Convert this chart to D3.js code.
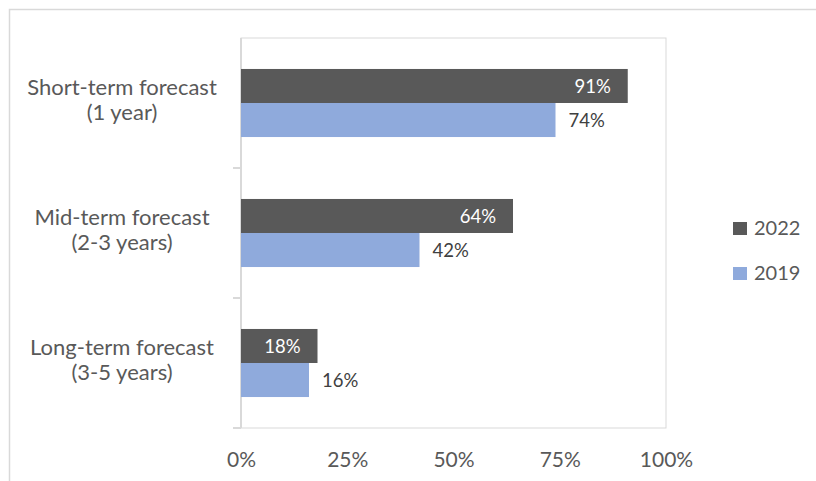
<!DOCTYPE html>
<html>
  <head>
    <meta charset="utf-8">
    <title>Forecast horizon</title>
    <script type="text/javascript" src="https://d3js.org/d3.v7.min.js"></script>
    <style>
      body { margin: 0; background: #fff; }
      text { font-family: Lato, "Open Sans", sans-serif; }
    </style>
  </head>
  <body>
    <script>

    var categories = [["Short-term forecast", "(1 year)"],
                      ["Mid-term forecast", "(2-3 years)"],
                      ["Long-term forecast", "(3-5 years)"]];
    var seriesNames = ["2022", "2019"];
    var values2022 = [91, 64, 18];
    var values2019 = [74, 42, 16];
    var tickValues = [0, 25, 50, 75, 100];
    var colors = ["#595959", "#8faadc"];

    var width = 816, height = 481;
    var plotLeft = 241, plotRight = 666, plotTop = 38, plotBottom = 428;   // plot area

    var svg = d3.select('body').append('svg')
                .attr("width", width)
                .attr("height", height);

    // outer chart border (runs off the right/bottom edge)
    svg.append("rect")
       .attr("x", 9.5).attr("y", 9.5)
       .attr("width", 820).attr("height", 480)
       .attr("fill", "none").attr("stroke", "#d9d9d9").attr("stroke-width", 1.5);

    var x = d3.scaleLinear().domain([0, 100]).range([plotLeft, plotRight]);
    var y = d3.scaleBand().domain(d3.range(categories.length)).range([plotTop, plotBottom]);
    var inner = d3.scaleBand().domain(seriesNames).range([0, y.bandwidth()]).paddingOuter(0.91).paddingInner(0);

    // plot area border
    svg.append("rect")
       .attr("x", plotLeft).attr("y", plotTop)
       .attr("width", plotRight - plotLeft).attr("height", plotBottom - plotTop)
       .attr("fill", "none").attr("stroke", "#d9d9d9").attr("stroke-width", 1);

    // category axis with ticks between categories
    var yAxisG = svg.append("g").attr("stroke", "#d9d9d9").attr("stroke-width", 2);
    yAxisG.append("line").attr("x1", plotLeft).attr("x2", plotLeft).attr("y1", plotTop).attr("y2", plotBottom);
    yAxisG.selectAll("line.tk")
          .data(d3.range(1, categories.length + 1))
          .enter().append("line")
          .attr("class", "tk")
          .attr("x1", plotLeft - 8).attr("x2", plotLeft)
          .attr("y1", function(d) { return d < categories.length ? y(d) : plotBottom; })
          .attr("y2", function(d) { return d < categories.length ? y(d) : plotBottom; });

    // category labels
    var catG = svg.selectAll("text.cat")
                  .data(categories)
                  .enter().append("text")
                  .attr("class", "cat")
                  .attr("text-anchor", "middle")
                  .attr("fill", "#595959")
                  .attr("font-size", 22)
                  .attr("y", function(d, i) { return y(i) + y.bandwidth() / 2; });
    catG.selectAll("tspan")
        .data(function(d) { return d; })
        .enter().append("tspan")
        .attr("x", 122)
        .attr("dy", function(d, i) { return i === 0 ? -8 : 25; })
        .text(function(d) { return d; });

    // value axis labels
    var xAxis = d3.axisBottom(x).tickValues(tickValues)
                  .tickFormat(function(d) { return d + "%"; })
                  .tickSize(0);
    var xg = svg.append("g").attr("transform", "translate(0," + plotBottom + ")").call(xAxis);
    xg.select(".domain").remove();
    xg.selectAll("text").attr("fill", "#595959").attr("font-size", 21)
      .attr("y", 39).attr("dy", 0)
      .style("font-family", "Lato, 'Open Sans', sans-serif");

    // bars
    var seriesData = [values2022, values2019];
    seriesData.forEach(function(vals, s) {
      var name = seriesNames[s];
      svg.selectAll("rect.s" + s)
         .data(vals)
         .enter().append("rect")
         .attr("class", "s" + s)
         .attr("x", x(0))
         .attr("y", function(d, i) { return y(i) + inner(name); })
         .attr("width", function(d) { return x(d) - x(0); })
         .attr("height", inner.bandwidth())
         .attr("fill", colors[s]);

      svg.selectAll("text.l" + s)
         .data(vals)
         .enter().append("text")
         .attr("class", "l" + s)
         .attr("x", function(d) { return s === 0 ? x(d) - 17 : x(d) + 13; })
         .attr("y", function(d, i) { return y(i) + inner(name) + inner.bandwidth() / 2 + 7; })
         .attr("text-anchor", s === 0 ? "end" : "start")
         .attr("fill", s === 0 ? "#ffffff" : "#404040")
         .attr("font-size", 18.5)
         .text(function(d) { return d + "%"; });
    });

    // legend
    var legend = svg.selectAll("g.leg")
                    .data(seriesNames)
                    .enter().append("g")
                    .attr("class", "leg")
                    .attr("transform", function(d, i) { return "translate(733," + (222 + i * 45) + ")"; });
    legend.append("rect").attr("width", 14).attr("height", 13)
          .attr("fill", function(d, i) { return colors[i]; });
    legend.append("text").attr("x", 21).attr("y", 13)
          .attr("fill", "#595959").attr("font-size", 20)
          .text(function(d) { return d; });

    </script>
  </body>
</html>
